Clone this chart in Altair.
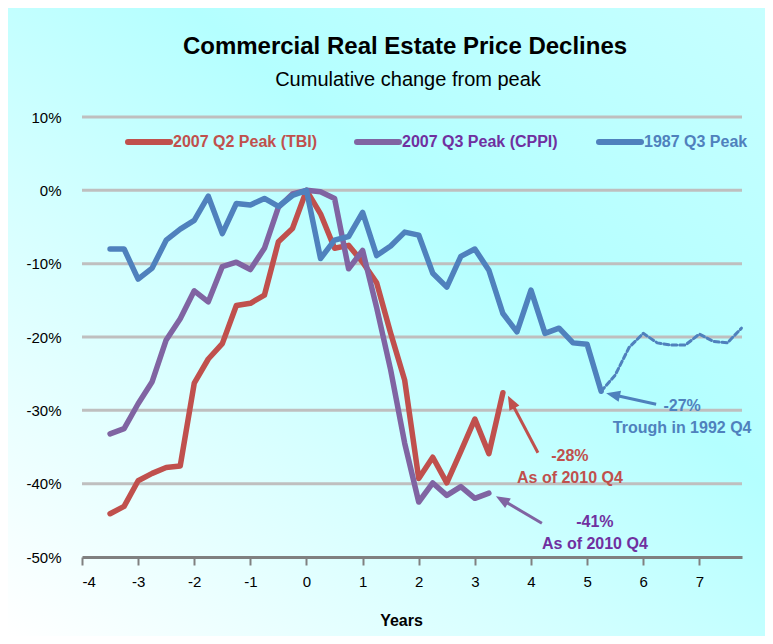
import math
import altair as alt
import pandas as pd

# ---------------- data ----------------
tbi_years = [-3.5, -3.25, -3.0, -2.75, -2.5, -2.25, -2.0, -1.75, -1.5, -1.25, -1.0, -0.75, -0.5, -0.25,
             0.0, 0.25, 0.5, 0.75, 1.0, 1.25, 1.5, 1.75, 2.0, 2.25, 2.5, 2.75, 3.0, 3.25, 3.5]
tbi_values = [-44.1, -43.1, -39.6, -38.6, -37.8, -37.6, -26.3, -23.0, -20.9, -15.7, -15.4, -14.3, -7.0, -5.2,
              0.0, -3.2, -7.9, -7.5, -9.8, -12.6, -19.5, -25.9, -39.3, -36.4, -39.9, -35.6, -31.2, -35.9, -27.6]

cppi_years = [-3.5, -3.25, -3.0, -2.75, -2.5, -2.25, -2.0, -1.75, -1.5, -1.25, -1.0, -0.75, -0.5, -0.25,
              0.0, 0.25, 0.5, 0.75, 1.0, 1.25, 1.5, 1.75, 2.0, 2.25, 2.5, 2.75, 3.0, 3.25]
cppi_values = [-33.2, -32.5, -29.1, -26.1, -20.4, -17.5, -13.7, -15.2, -10.4, -9.8, -10.8, -7.9, -2.3, -0.5,
               0.0, -0.2, -1.1, -10.7, -8.2, -16.0, -24.5, -34.5, -42.5, -39.9, -41.6, -40.4, -42.0, -41.3]

p87_years = [-3.5, -3.25, -3.0, -2.75, -2.5, -2.25, -2.0, -1.75, -1.5, -1.25, -1.0, -0.75, -0.5, -0.25,
             0.0, 0.25, 0.5, 0.75, 1.0, 1.25, 1.5, 1.75, 2.0, 2.25, 2.5, 2.75, 3.0, 3.25, 3.5, 3.75,
             4.0, 4.25, 4.5, 4.75, 5.0, 5.25]
p87_values = [-8.0, -8.0, -12.1, -10.6, -6.8, -5.3, -4.1, -0.8, -5.9, -1.8, -2.0, -1.1, -2.2, -0.7,
              0.0, -9.3, -6.8, -6.3, -3.0, -8.9, -7.6, -5.7, -6.1, -11.3, -13.2, -9.0, -8.0, -10.9, -16.8, -19.3,
              -13.6, -19.5, -18.8, -20.8, -21.0, -27.4]
# continuation after the 1992 Q4 trough (drawn dashed)
p87_after_years = [5.25, 5.5, 5.75, 6.0, 6.25, 6.5, 6.75, 7.0, 7.25, 7.5, 7.75]
p87_after_values = [-27.4, -25.2, -21.4, -19.5, -20.8, -21.1, -21.1, -19.6, -20.6, -20.8, -18.8]

series_names = ["2007 Q2 Peak (TBI)", "2007 Q3 Peak (CPPI)", "1987 Q3 Peak"]
line_colors = ["#c0504d", "#8064a2", "#4f81bd"]
text_colors = ["#c0504d", "#7030a0", "#4f81bd"]

x_ticks = [-4, -3, -2, -1, 0, 1, 2, 3, 4, 5, 6, 7]
y_ticks = [10, 0, -10, -20, -30, -40, -50]
grid_values = [10, 0, -10, -20, -30, -40]

title_text = "Commercial Real Estate Price Declines"
subtitle_text = "Cumulative change from peak"
note_lines = ["As of 2010 Q4", "As of 2010 Q4", "Trough in 1992 Q4"]

# ---------------- layout ----------------
W, H = 660, 440
PAD = {"left": 74, "top": 109, "right": 23, "bottom": 79}
X_DOM = [-4, 7.76]
Y_DOM = [-50, 10]
FONT = "Liberation Sans"
px_x = W / (X_DOM[1] - X_DOM[0])
px_y = H / (Y_DOM[1] - Y_DOM[0])

xscale = alt.Scale(domain=X_DOM, nice=False, zero=False)
yscale = alt.Scale(domain=Y_DOM, nice=False, zero=False)

one = pd.DataFrame({"k": [0]})

# background gradient
bg = alt.Chart(one).mark_rect(
    fill=alt.Gradient(
        gradient="linear", x1=0, y1=1, x2=1, y2=0,
        stops=[alt.GradientStop(color="#ffffff", offset=0),
               alt.GradientStop(color="#d6ffff", offset=0.35),
               alt.GradientStop(color="#b4ffff", offset=0.62),
               alt.GradientStop(color="#c6ffff", offset=1)]),
    strokeWidth=0,
).encode(
    x=alt.value(-PAD["left"]), x2=alt.value(W + PAD["right"]),
    y=alt.value(-PAD["top"]), y2=alt.value(H + PAD["bottom"]),
)

yaxis = alt.Axis(
    values=y_ticks, labelExpr="datum.value + '%'", title=None, grid=False,
    domain=False, ticks=False, tickSize=0, labelPadding=21, labelFontSize=15,
    labelColor="black", labelFont=FONT, zindex=1)
xaxis = alt.Axis(
    values=x_ticks, labelExpr="'' + datum.value", title="Years", grid=False,
    domainColor="#808080", domainWidth=3,
    tickColor="#808080", tickWidth=2, tickSize=8, labelFontSize=15, labelPadding=9,
    labelColor="black", labelFont=FONT, titleFont=FONT, titleFontSize=16,
    titleFontWeight="bold", titleColor="black", titleX=319, titleY=63,
    titleBaseline="middle", titleAlign="center", zindex=1)

grid = alt.Chart(pd.DataFrame({"v": grid_values})).mark_rule(
    color="#bfbfbf", strokeWidth=3
).encode(
    y=alt.Y("v:Q", scale=yscale, axis=yaxis),
    x=alt.value(0), x2=alt.value(W),
)


def line_layer(years, values, color, width=5.5, dash=None, with_axes=False):
    df = pd.DataFrame({"year": years, "chg": values})
    kw = dict(color=color, strokeWidth=width, strokeCap="round", strokeJoin="round")
    if dash:
        kw["strokeDash"] = dash
    if with_axes:
        xenc = alt.X("year:Q", scale=xscale, axis=xaxis)
    else:
        xenc = alt.X("year:Q", scale=xscale)
    yenc = alt.Y("chg:Q", scale=yscale)
    return alt.Chart(df).mark_line(**kw).encode(x=xenc, y=yenc)


red = line_layer(tbi_years, tbi_values, line_colors[0], with_axes=True)
purple = line_layer(cppi_years, cppi_values, line_colors[1])
blue = line_layer(p87_years, p87_values, line_colors[2])
blue_dash = line_layer(p87_after_years, p87_after_values, line_colors[2], width=3, dash=[5, 3])

# titles
title = alt.Chart(one).mark_text(
    text=title_text, font=FONT, fontSize=24, fontWeight="bold", color="black",
    align="center", baseline="middle",
).encode(x=alt.value(323), y=alt.value(-70))
subtitle = alt.Chart(one).mark_text(
    text=subtitle_text, font=FONT, fontSize=20, color="black",
    align="center", baseline="middle",
).encode(x=alt.value(326), y=alt.value(-37))

# legend (manual, coloured labels)
legend_x = [46, 275, 517]
legend_layers = []
for name, lc, tc, lx in zip(series_names, line_colors, text_colors, legend_x):
    legend_layers.append(alt.Chart(one).mark_rule(
        color=lc, strokeWidth=6, strokeCap="round").encode(
        x=alt.value(lx), x2=alt.value(lx + 42), y=alt.value(25)))
    legend_layers.append(alt.Chart(one).mark_text(
        text=name, font=FONT, fontSize=16, fontWeight="bold", color=tc,
        align="left", baseline="middle").encode(
        x=alt.value(lx + 45), y=alt.value(25)))

# annotations: anchor point, arrow tip / tail offsets (px), text offsets (px)
anchors = [
    (tbi_years[-1], tbi_values[-1]),
    (cppi_years[-1], cppi_values[-1]),
    (p87_years[-1], p87_values[-1]),
]
tip_off = [(5, 3), (7, 3), (5, 2)]
tail_off = [(35, 60), (53, 30), (55, 13)]
text_off = [(67, 63), (106, 29), (81, 15)]


def to_data(ax, ay, dx, dy):
    return ax + dx / px_x, ay - dy / px_y


ann_layers = []
for (ax, ay), tp, tl, to, tc, lc, note in zip(anchors, tip_off, tail_off, text_off,
                                             text_colors, line_colors, note_lines):
    ddx, ddy = tp[0] - tl[0], tp[1] - tl[1]
    L = math.hypot(ddx, ddy)
    ux, uy = ddx / L, ddy / L
    head_len = 14
    cx, cy = tp[0] - ux * head_len / 2, tp[1] - uy * head_len / 2
    ang = math.degrees(math.atan2(ddx, -ddy)) % 360
    tx, ty = to_data(ax, ay, *tl)
    hx, hy = to_data(ax, ay, cx, cy)
    arrow_df = pd.DataFrame({"x": [tx], "y": [ty], "x2": [hx], "y2": [hy]})
    ann_layers.append(alt.Chart(arrow_df).mark_rule(color=lc, strokeWidth=3).encode(
        x=alt.X("x:Q", scale=xscale), y=alt.Y("y:Q", scale=yscale), x2="x2:Q", y2="y2:Q"))
    head_df = pd.DataFrame({"x": [hx], "y": [hy]})
    ann_layers.append(alt.Chart(head_df).mark_point(
        shape="M0,-1L0.8,1L-0.8,1Z", size=head_len ** 2, filled=True, opacity=1,
        color=lc, angle=ang, strokeWidth=0).encode(
        x=alt.X("x:Q", scale=xscale), y=alt.Y("y:Q", scale=yscale)))
    lab_df = pd.DataFrame({"x": [ax], "y": [ay],
                           "pct": [f"{round(ay):d}%"], "note": [note]})
    ann_layers.append(alt.Chart(lab_df).mark_text(
        font=FONT, fontSize=16, fontWeight="bold", color=tc, align="center",
        baseline="middle", dx=to[0], dy=to[1]).encode(
        x=alt.X("x:Q", scale=xscale), y=alt.Y("y:Q", scale=yscale), text="pct:N"))
    ann_layers.append(alt.Chart(lab_df).mark_text(
        font=FONT, fontSize=16, fontWeight="bold", color=tc, align="center",
        baseline="middle", dx=to[0], dy=to[1] + 22).encode(
        x=alt.X("x:Q", scale=xscale), y=alt.Y("y:Q", scale=yscale), text="note:N"))

chart = alt.layer(
    bg, grid, red, purple, blue, blue_dash, title, subtitle, *legend_layers, *ann_layers
).properties(
    width=W, height=H,
    autosize=alt.AutoSizeParams(type="none"),
    padding=PAD,
    background="white",
).configure_view(stroke=None)

chart.save("out.html", embed_options={"renderer": "svg", "actions": False})
